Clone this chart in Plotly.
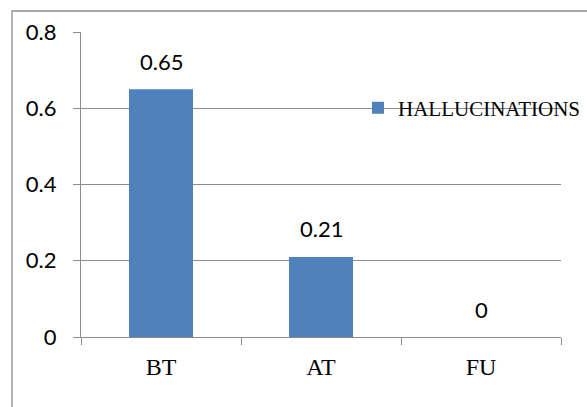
import plotly.graph_objects as go

# Data
categories = ["BT", "AT", "FU"]
hallucinations = [0.65, 0.21, 0]
series_name = "HALLUCINATIONS"
y_ticks = [0, 0.2, 0.4, 0.6, 0.8]
y_tick_labels = ["0", "0.2", "0.4", "0.6", "0.8"]

BAR_COLOR = "#4F81BD"
GRID = "#8c8c8c"
SANS = "Lato, Carlito, Calibri, sans-serif"
SERIF = "Liberation Serif, Times New Roman, serif"

W, H = 587, 407
L, R, T, B = 81, 26, 32, 70
pw, ph = W - L - R, H - T - B

fig = go.Figure()
fig.add_trace(go.Bar(
    x=categories, y=hallucinations, name=series_name,
    marker=dict(color=BAR_COLOR, line=dict(width=0)),
    width=0.4, showlegend=True,
))

# value labels above each bar
for c, v in zip(categories, hallucinations):
    fig.add_annotation(x=c, y=v, text=f"{v:g}", showarrow=False,
                       yanchor="middle", yshift=28,
                       font=dict(family=SANS, size=22, color="#000"))

# outer chart frame (runs past the right and bottom edges)
fig.add_shape(type="rect", xref="paper", yref="paper",
              x0=(12 - L) / pw, x1=(W + 20 - L) / pw,
              y0=-(H + 20 - (H - B)) / ph, y1=((H - B) - 11) / ph,
              line=dict(color=GRID, width=1.3), fillcolor="rgba(0,0,0,0)",
              layer="below")

fig.update_layout(
    width=W, height=H,
    margin=dict(l=L, r=R, t=T, b=B, pad=0, autoexpand=False),
    paper_bgcolor="white", plot_bgcolor="white",
    bargap=0.6,
    legend=dict(x=(358 - L) / pw, y=(H - B - 108) / ph, xanchor="left",
                yanchor="middle", bgcolor="rgba(0,0,0,0)",
                font=dict(family=SERIF, size=21, color="#000"),
                itemwidth=30, tracegroupgap=0),
    xaxis=dict(
        type="category", tickson="boundaries", ticks="outside", ticklen=7,
        tickcolor=GRID, tickwidth=1.3, showline=True, linecolor=GRID,
        linewidth=1.3, showgrid=False, ticklabelstandoff=8, automargin=False,
        tickfont=dict(family=SERIF, size=24, color="#000"),
    ),
    yaxis=dict(
        range=[0, 0.8], tickvals=y_ticks, ticktext=y_tick_labels,
        ticks="outside", ticklen=7, tickcolor=GRID, tickwidth=1.3,
        showline=True, linecolor=GRID, linewidth=1.3, ticklabelstandoff=12,
        showgrid=True, gridcolor=GRID, gridwidth=1.3, zeroline=False,
        automargin=False,
        tickfont=dict(family=SANS, size=22, color="#000"),
    ),
)

fig.write_html("out.html")
